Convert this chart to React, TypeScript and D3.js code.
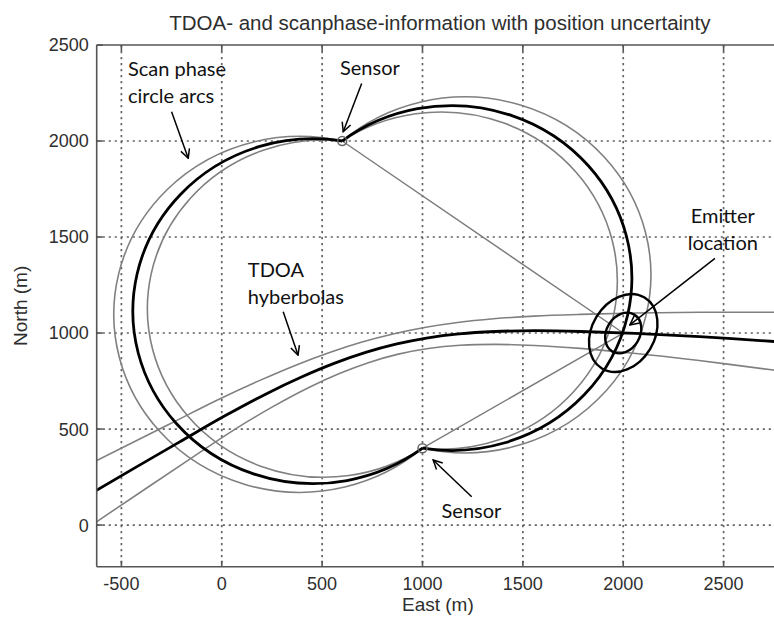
import React from "react";
import * as d3 from "d3";

// axis ticks
const xTicks = [-500, 0, 500, 1000, 1500, 2000, 2500];
const yTicks = [0, 500, 1000, 1500, 2000, 2500];

// sensors and emitter (m)
const sensorEast = [600, 1000];
const sensorNorth = [2000, 400];
const emitterPos = [2000, 1000];

// scan phase circles through both sensors: inner, estimate, outer radius (m)
const scanRadii = [878, 898, 927];

// TDOA hyperbolas [east, north]
const tdoaCentre = [
  [-817, 60], [-647, 167], [-216, 429], [18, 570], [221, 683], [400, 772],
  [563, 843], [717, 899], [867, 942], [1020, 974], [1182, 996], [1360, 1008],
  [1559, 1012], [1789, 1008], [2059, 998], [2380, 981], [2763, 955], [2984, 938],
];
const tdoaUpper = [
  [-716, 287], [-267, 522], [-24, 650], [187, 752], [372, 834], [541, 900],
  [699, 953], [853, 995], [1010, 1029], [1175, 1055], [1354, 1074], [1556, 1088],
  [1789, 1097], [2061, 1104], [2383, 1108], [2769, 1108], [2991, 1106],
];
const tdoaLower = [
  [-734, -63], [-571, 54], [-161, 342], [63, 497], [257, 618], [429, 714],
  [586, 789], [734, 847], [880, 890], [1029, 919], [1188, 936], [1362, 941],
  [1558, 935], [1785, 920], [2052, 895], [2368, 858], [2748, 807], [2966, 776],
];

// position uncertainty ellipses (m, deg)
const ellipseMajor = [107, 206];
const ellipseMinor = [87, 163];
const ellipseTilt = 59;

const notes = [
  { lines: ["Scan phase", "circle arcs"], at: [-467, 2338], anchor: "start", from: [-250, 2152], to: [-167, 1910] },
  { lines: ["Sensor"], at: [589, 2344], anchor: "start", from: [697, 2300], to: [605, 2048] },
  { lines: ["Emitter", "location"], at: [2496, 1571], anchor: "middle", from: [2457, 1389], to: [2033, 1042] },
  { lines: ["TDOA", "hyberbolas"], at: [130, 1292], anchor: "start", from: [306, 1111], to: [380, 885] },
  { lines: ["Sensor"], at: [1095, 35], anchor: "start", from: [1245, 147], to: [1053, 339] },
];

const W = 774;
const H = 621;
const left = 96.7, top = 45, right = 779, bottom = 566.7;

const App = () => {
  const x = d3.scaleLinear().domain([-623, 2776]).range([left, right]);
  const y = d3.scaleLinear().domain([-217, 2500]).range([bottom, top]);
  const line = d3
    .line<number[]>()
    .x(d => x(d[0]))
    .y(d => y(d[1]))
    .curve(d3.curveCatmullRom);

  const s1 = [x(sensorEast[0]), y(sensorNorth[0])];
  const s2 = [x(sensorEast[1]), y(sensorNorth[1])];
  const ex = x(emitterPos[0]);
  const ey = y(emitterPos[1]);

  // arc from sensor 1 round to sensor 2, sweep 0 = west side, 1 = east side
  const arc = (r: number, sweep: number) =>
    `M${s1[0]},${s1[1]}A${x(r) - x(0)},${y(0) - y(r)} 0 1 ${sweep} ${s2[0]},${s2[1]}`;

  const thin = { fill: "none", stroke: "#808080", strokeWidth: 1.6 };
  const thick = { fill: "none", stroke: "#000", strokeWidth: 2.8 };
  const font = "'Liberation Sans', Arial, sans-serif";

  return (
    <svg width={W} height={H} style={{ position: "absolute", left: 0, top: 0 }}>
      <defs>
        <clipPath id="plot">
          <rect x={left} y={top} width={right - left} height={bottom - top} />
        </clipPath>
        <marker id="head" viewBox="-11 -6 12 12" refX={0} refY={0} markerWidth={12} markerHeight={12} markerUnits="userSpaceOnUse" orient="auto">
          <path d="M-9,-4.5L0,0L-9,4.5" fill="none" stroke="#000" strokeWidth={1.5} />
        </marker>
      </defs>
      <rect width={W} height={H} fill="#fff" />

      <g stroke="#666" strokeWidth={1.7} strokeDasharray="2.2 3.8">
        {xTicks.map(t => (
          <line key={"gx" + t} x1={x(t)} x2={x(t)} y1={top} y2={bottom} />
        ))}
        {yTicks.filter(t => t < 2500).map(t => (
          <line key={"gy" + t} x1={left} x2={W} y1={y(t)} y2={y(t)} />
        ))}
      </g>

      <g clipPath="url(#plot)">
        {[0, 1].map(side => (
          <g key={"arcs" + side}>
            <path d={arc(scanRadii[0], side)} {...thin} />
            <path d={arc(scanRadii[2], side)} {...thin} />
          </g>
        ))}
        <path d={line(tdoaUpper) || ""} {...thin} />
        <path d={line(tdoaLower) || ""} {...thin} />
        <line x1={s1[0]} y1={s1[1]} x2={ex} y2={ey} stroke="#7a7a7a" strokeWidth={1.4} />
        <line x1={s2[0]} y1={s2[1]} x2={ex} y2={ey} stroke="#7a7a7a" strokeWidth={1.4} />
        <path d={arc(scanRadii[1], 0)} {...thick} />
        <path d={arc(scanRadii[1], 1)} {...thick} />
        <path d={line(tdoaCentre) || ""} {...thick} />
        {ellipseMajor.map((a, i) => (
          <ellipse
            key={"el" + i}
            cx={ex}
            cy={ey}
            rx={x(a) - x(0)}
            ry={y(0) - y(ellipseMinor[i])}
            transform={`rotate(${-ellipseTilt} ${ex} ${ey})`}
            fill="none"
            stroke="#000"
            strokeWidth={2.4}
          />
        ))}
        {sensorEast.map((e, i) => (
          <circle key={"s" + i} cx={x(e)} cy={y(sensorNorth[i])} r={4.5} fill="none" stroke="#666" strokeWidth={1.5} />
        ))}
      </g>

      <g stroke="#555" strokeWidth={1.6} fill="none">
        <line x1={left} x2={left} y1={top} y2={bottom} />
        <line x1={left} x2={W} y1={bottom} y2={bottom} />
        <line x1={left} x2={W} y1={top} y2={top} />
        {xTicks.map(t => (
          <g key={"tx" + t}>
            <line x1={x(t)} x2={x(t)} y1={bottom} y2={bottom - 6} />
            <line x1={x(t)} x2={x(t)} y1={top} y2={top + 6} />
          </g>
        ))}
        {yTicks.map(t => (
          <line key={"ty" + t} x1={left} x2={left + 6} y1={y(t)} y2={y(t)} />
        ))}
      </g>

      <g fontFamily={font} fontSize={18} fill="#2e2e2e">
        {xTicks.map(t => (
          <text key={"lx" + t} x={x(t)} y={bottom + 23} textAnchor="middle">{t}</text>
        ))}
        {yTicks.map(t => (
          <text key={"ly" + t} x={left - 8} y={y(t)} dy="0.36em" textAnchor="end">{t}</text>
        ))}
        <text x={(left + right) / 2} y={611} fontSize={19} textAnchor="middle">East (m)</text>
        <text transform={`translate(27,${(top + bottom) / 2}) rotate(-90)`} fontSize={19} textAnchor="middle">North (m)</text>
        <text x={(left + right) / 2 + 2} y={30} fontSize={20.5} textAnchor="middle">
          TDOA- and scanphase-information with position uncertainty
        </text>
      </g>

      <g fontFamily="Lato, 'Open Sans', sans-serif" fontSize={20} fill="#111">
        {notes.map((n, i) => (
          <g key={"n" + i}>
            <text x={x(n.at[0])} y={y(n.at[1])} textAnchor={n.anchor}>
              {n.lines.map((l, j) => (
                <tspan key={j} x={x(n.at[0])} dy={j === 0 ? 0 : 27}>{l}</tspan>
              ))}
            </text>
            <line
              x1={x(n.from[0])}
              y1={y(n.from[1])}
              x2={x(n.to[0])}
              y2={y(n.to[1])}
              stroke="#000"
              strokeWidth={1.5}
              markerEnd="url(#head)"
            />
          </g>
        ))}
      </g>
    </svg>
  );
};

export default App;
